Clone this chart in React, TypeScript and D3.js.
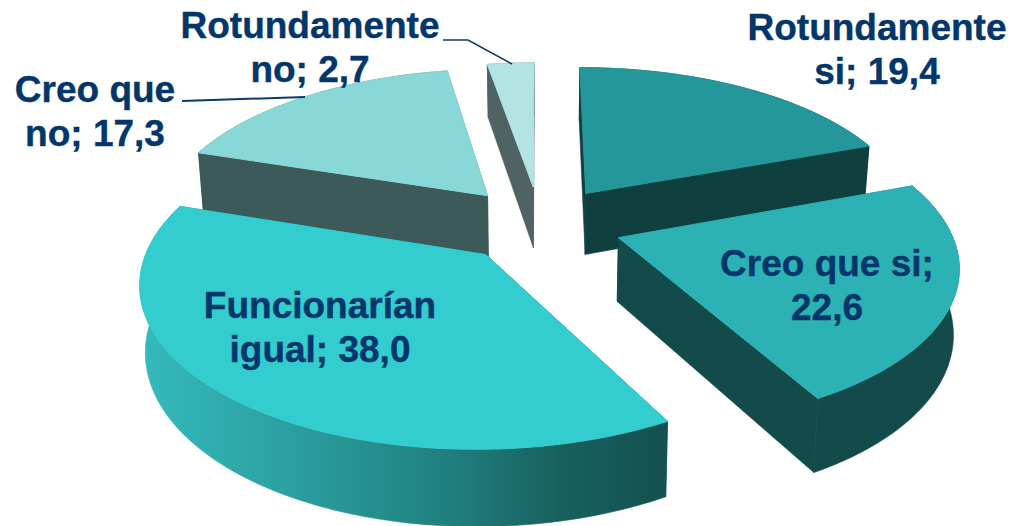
import React from "react";
import * as d3 from "d3";

const categories = ["Rotundamente si", "Creo que si", "Funcionarían igual", "Creo que no", "Rotundamente no"];
const values = [19.4, 22.6, 38.0, 17.3, 2.7];
const valueLabels = ["19,4", "22,6", "38,0", "17,3", "2,7"];

const labelLines = [
  ["Rotundamente", "si; " + valueLabels[0]],
  ["Creo que si;", valueLabels[1]],
  ["Funcionarían", "igual; " + valueLabels[2]],
  ["Creo que", "no; " + valueLabels[3]],
  ["Rotundamente", "no; " + valueLabels[4]],
];
const labelPos = [
  { x: 877, y: 40 },
  { x: 827, y: 276 },
  { x: 320, y: 318 },
  { x: 95, y: 102 },
  { x: 310, y: 38 },
];

const topColors = ["#23979a", "#2cb2b5", "#33cccf", "#88d8d7", "#b2e4e4"];
const wallColors = ["#0f3f3f", "#134a4a", "#156060", "#3c5a59", "#4f6362"];
const drawOrder = [4, 3, 0, 2, 1];

const W = 1010, H = 526;
const CX = 540, CY = 224;
const R = 330, RT = 154, K = 0.155, DEPTH = 63, EXPLODE = 0.25, SHRINK = 0.986;

type P = [number, number];
const project = (X: number, Y: number, low: boolean): P => {
  const s = 1 / (1 + K * Y);
  const x = R * X * s * (low ? SHRINK : 1);
  const y = (-RT * Y + (low ? DEPTH : 0)) * s;
  return [CX + x, CY + y];
};
const line = d3.line<P>().x((d) => d[0]).y((d) => d[1]);

export default function App() {
  const arcs = d3.pie<number>().sort(null)(values);
  const shapes = arcs.map((a, i) => {
    const mid = (a.startAngle + a.endAngle) / 2;
    const ox = EXPLODE * Math.sin(mid), oy = EXPLODE * Math.cos(mid);
    const steps = d3.range(0, 61).map((j) => a.startAngle + ((a.endAngle - a.startAngle) * j) / 60);
    const rim = (low: boolean) =>
      steps.map((t) => project(ox + Math.sin(t), oy + Math.cos(t), low));
    const apex = (low: boolean) => project(ox, oy, low);
    const top = rim(false), bot = rim(true);
    const n = top.length - 1;
    return {
      i,
      top: line([apex(false), ...top])! + "Z",
      outer: line([...top, ...bot.slice().reverse()])! + "Z",
      startWall: line([apex(false), top[0], bot[0], apex(true)])! + "Z",
      endWall: line([apex(false), top[n], bot[n], apex(true)])! + "Z",
    };
  });

  return (
    <svg
      width={W}
      height={H}
      viewBox={`0 0 ${W} ${H}`}
      style={{ position: "absolute", left: 0, top: 0, display: "block", background: "#fff" }}
      fontFamily="'Liberation Sans', Arial, sans-serif"
    >
      <defs>
        <linearGradient id="wall3" gradientUnits="userSpaceOnUse" x1={145} x2={668} y1={0} y2={0}>
          <stop offset="0%" stopColor="#35b9bb" />
          <stop offset="30%" stopColor="#2a9d9e" />
          <stop offset="60%" stopColor="#1f7d7c" />
          <stop offset="80%" stopColor="#175f5e" />
          <stop offset="100%" stopColor="#145150" />
        </linearGradient>
      </defs>
      {drawOrder.map((k) => {
        const s = shapes[k];
        const wall = wallColors[k];
        return (
          <g key={categories[k]}>
            <path d={s.startWall} fill={wall} stroke={wall} strokeWidth={0.6} />
            <path d={s.endWall} fill={wall} stroke={wall} strokeWidth={0.6} />
            <path
              d={s.outer}
              fill={k === 2 ? "url(#wall3)" : wall}
              stroke={k === 2 ? "url(#wall3)" : wall}
              strokeWidth={0.6}
            />
            <path d={s.top} fill={topColors[k]} stroke={topColors[k]} strokeWidth={1} />
          </g>
        );
      })}
      <path d="M443,40L468,40L512,64" fill="none" stroke="#0b3a6b" strokeWidth={1.5} />
      <path d="M182,101L305,97" fill="none" stroke="#0b3a6b" strokeWidth={2} />
      {labelLines.map((lines, i) => (
        <text key={i} textAnchor="middle" fontSize={37} fontWeight={700} fill="#03376b" stroke="#03376b" strokeWidth={0.4}>
          {lines.map((t, j) => (
            <tspan key={j} x={labelPos[i].x} y={labelPos[i].y + j * 44}>{t}</tspan>
          ))}
        </text>
      ))}
    </svg>
  );
}
